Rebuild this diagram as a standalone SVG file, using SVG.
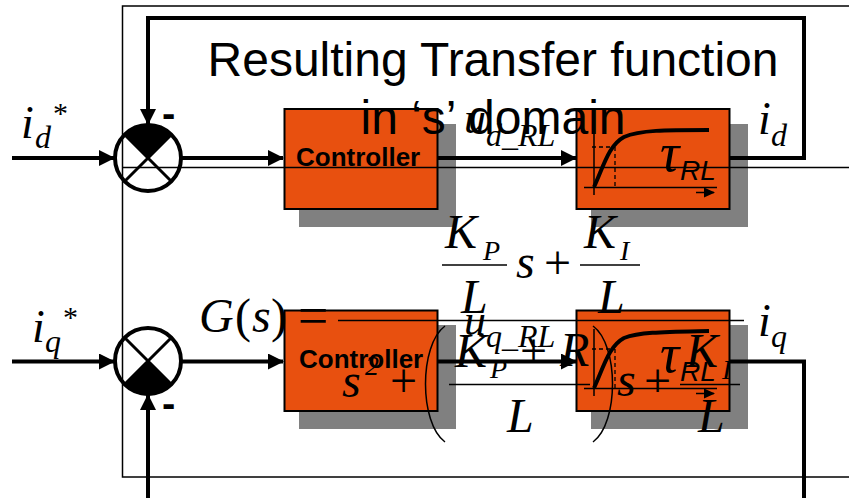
<svg xmlns="http://www.w3.org/2000/svg" width="849" height="498" viewBox="0 0 849 498">
<style>
.s{font-family:"Liberation Sans",Arial,sans-serif}
.t{font-family:"Liberation Serif","Times New Roman",serif}
.i{font-style:italic}
.m{font-size:48px}
.v{font-size:46px}
.u{font-size:32px}
.e{font-size:28px}
.wire{fill:none;stroke:#000;stroke-width:4}
.thin{fill:none;stroke:#000;stroke-width:1.5}
.block{fill:#e8500f;stroke:#000;stroke-width:2}
.shadow{fill:#808080}
.ctl{font-family:"Liberation Sans",Arial,sans-serif;font-weight:bold;font-size:26px}
</style>
<defs>
<marker id="a" markerUnits="userSpaceOnUse" markerWidth="16" markerHeight="16" refX="15" refY="8" orient="auto"><path d="M0 0L16 8L0 16z" fill="#000"/></marker>
<marker id="b" markerUnits="userSpaceOnUse" markerWidth="11" markerHeight="10" refX="10" refY="5" orient="auto"><path d="M0 0L11 5L0 10z" fill="#000"/></marker>
</defs>
<rect x="122.500" y="6" width="740" height="471" fill="none" stroke="#000" stroke-width="1.500"/>
<g id="block-controller-d"><rect class="shadow" x="299" y="124" width="157" height="103"/><rect class="block" x="284.500" y="109" width="153" height="100"/><text class="ctl" x="296" y="166">Controller</text></g>
<g id="block-plant-d"><rect class="shadow" x="591" y="124" width="157" height="103"/><rect class="block" x="576.500" y="109" width="153" height="100"/>
<path class="thin" d="M594 128V195M584 187.500H717"/><path d="M592 147H615M615 147V187" fill="none" stroke="#000" stroke-width="1.300" stroke-dasharray="4 3"/><path d="M594 187C604 165 609 145 624 137C640 130 665 130 709 130" fill="none" stroke="#000" stroke-width="4"/><path class="thin" d="M696 192.500H714" marker-end="url(#b)"/></g>
<g id="block-controller-q"><rect class="shadow" x="299" y="325" width="157" height="104"/><rect class="block" x="284.500" y="310.500" width="153" height="100.500"/><text class="ctl" x="299" y="368">Controller</text></g>
<g id="block-plant-q"><rect class="shadow" x="591" y="325" width="157" height="104"/><rect class="block" x="576.500" y="310.500" width="153" height="100.500"/>
<path class="thin" d="M594 329V396M584 388.500H717"/><path d="M592 349H615M615 349V388" fill="none" stroke="#000" stroke-width="1.300" stroke-dasharray="4 3"/><path d="M594 388C604 366 609 346 624 338C640 332 665 332 709 331" fill="none" stroke="#000" stroke-width="4"/><path class="thin" d="M696 393.500H714" marker-end="url(#b)"/></g>
<g id="sum-d"><path d="M148 158L124 134A33 33 0 0 1 172 134Z" fill="#000"/><circle cx="148" cy="158" r="33" fill="none" stroke="#000" stroke-width="4"/><path d="M124 134L172 182M172 134L124 182" fill="none" stroke="#000" stroke-width="3"/></g>
<g id="sum-q"><path d="M148 361L124 385A33 33 0 0 0 172 385Z" fill="#000"/><circle cx="148" cy="361" r="33" fill="none" stroke="#000" stroke-width="4"/><path d="M124 337L172 385M172 337L124 385" fill="none" stroke="#000" stroke-width="3"/></g>
<g id="connectors">
<path class="wire" d="M12 158H114" marker-end="url(#a)"/>
<path class="wire" d="M182 158H283" marker-end="url(#a)"/>
<path class="wire" d="M438 158H576" marker-end="url(#a)"/>
<path class="wire" d="M730 158H804V18H148V124" marker-end="url(#a)"/>
<path class="wire" d="M12 361.500H114" marker-end="url(#a)"/>
<path class="wire" d="M182 361.500H283" marker-end="url(#a)"/>
<path class="wire" d="M438 361.500H576" marker-end="url(#a)"/>
<path class="wire" d="M730 361.500H804V498"/>
<path class="wire" d="M148 498V395" marker-end="url(#a)"/>
</g>
<g id="labels">
<text class="t i v" x="21" y="138">i</text><text class="t i u" x="35" y="148">d</text><text class="t" x="53" y="123" font-size="30">*</text>
<text class="t i v" x="32" y="342">i</text><text class="t i u" x="45" y="352">q</text><text class="t" x="63" y="327" font-size="30">*</text>
<text class="s" x="162" y="127" font-size="40" font-weight="bold">-</text>
<text class="s" x="162" y="417" font-size="40" font-weight="bold">-</text>
<text class="t i" x="464" y="133" font-size="44">u</text><text class="t i u" x="486" y="146">d_RL</text>
<text class="t i" x="464" y="335" font-size="44">u</text><text class="t i u" x="486" y="347">q_RL</text>
<text class="t i v" x="758" y="134">i</text><text class="t i u" x="771" y="146">d</text>
<text class="t i v" x="758" y="336">i</text><text class="t i u" x="771" y="347">q</text>
<text class="t i" x="660" y="171" font-size="54">τ</text><text class="s i" x="680" y="180" font-size="28">RL</text>
<text class="t i" x="660" y="372" font-size="54">τ</text><text class="s i" x="680" y="381" font-size="28">RL</text>
</g>
<g id="overlay-text">
<text class="s" x="493" y="76" font-size="48" text-anchor="middle">Resulting Transfer function</text>
<text class="s" x="493" y="134" font-size="48" text-anchor="middle">in ‘s’ domain</text>
<text class="t i m" x="199" y="332">G</text><text class="t m" x="235" y="332">(</text><text class="t i m" x="252" y="332">s</text><text class="t m" x="271" y="332">)</text><text class="t" x="298" y="334" font-size="54">=</text>
<path class="thin" d="M338 320.500H744"/>
<text class="t i m" x="445" y="248">K</text><text class="t i e" x="483" y="260">P</text><path class="thin" d="M442 265H507"/><text class="t i m" x="461" y="313">L</text>
<text class="t i m" x="516" y="278">s</text><text class="t m" x="544" y="279">+</text>
<text class="t i m" x="584" y="248">K</text><text class="t i e" x="620" y="260">I</text><path class="thin" d="M580 265H640"/><text class="t i m" x="598" y="313">L</text>
<text class="t i m" x="342" y="397">s</text><text class="t i e" x="365" y="375">2</text><text class="t m" x="390" y="397">+</text>
<path d="M445 326C419 345 419 423 445 442" fill="none" stroke="#000" stroke-width="1.500"/>
<text class="t i m" x="455" y="367">K</text><text class="t i e" x="490" y="378">P</text><text class="t m" x="520" y="367">+</text><text class="t i m" x="560" y="366">R</text>
<path class="thin" d="M449 384.500H590"/><text class="t i m" x="507" y="432">L</text>
<path d="M593 326C619 345 619 423 593 442" fill="none" stroke="#000" stroke-width="1.500"/>
<text class="t i m" x="617" y="396">s</text><text class="t m" x="644" y="397">+</text>
<text class="t i m" x="686" y="367">K</text><text class="t i e" x="722" y="379">I</text>
<path class="thin" d="M680 384.500H740"/><text class="t i m" x="698" y="432">L</text>
</g>
<path class="thin" d="M122 167.500H849"/>
</svg>
